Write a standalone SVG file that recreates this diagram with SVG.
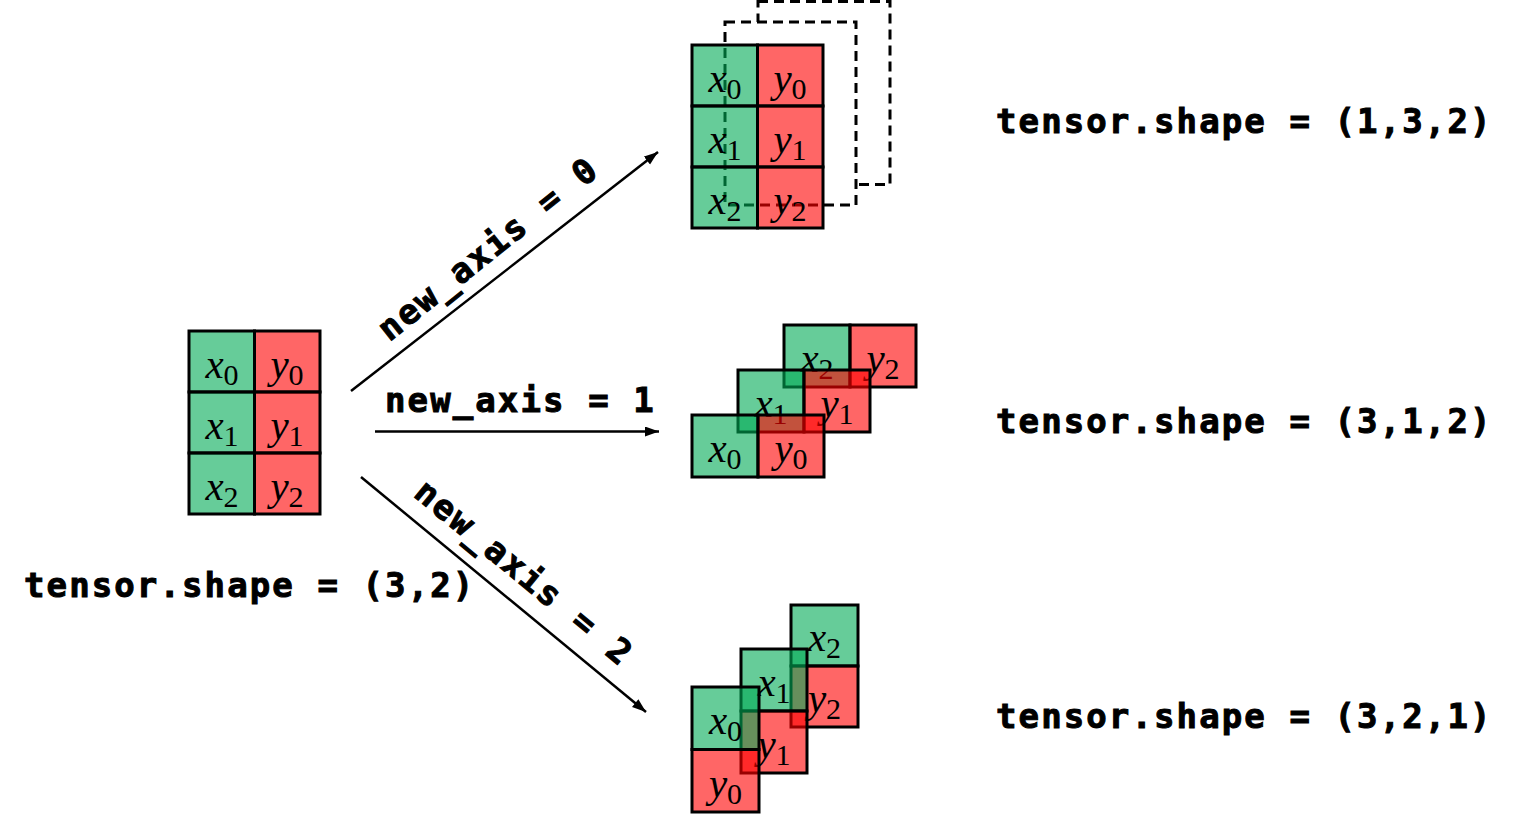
<svg xmlns="http://www.w3.org/2000/svg" width="1534" height="831" viewBox="0 0 1534 831">
<style>
.g{fill:rgb(0,170,85);fill-opacity:0.6;stroke:#000;stroke-width:3}
.r{fill:rgb(255,0,0);fill-opacity:0.6;stroke:#000;stroke-width:3}
.d{fill:#fff;stroke:#000;stroke-width:3;stroke-dasharray:10 6}
.v{font-family:"Liberation Serif","Times New Roman",serif;font-style:italic;font-size:41px;fill:#000;text-anchor:middle}
.s{font-style:normal;font-size:30px}
.lb{font-family:"DejaVu Sans Mono","Liberation Mono",monospace;font-weight:bold;font-size:34px;letter-spacing:2.1px;fill:#000;stroke:#000;stroke-width:1}
.ar{stroke:#000;stroke-width:2.5;fill:none;marker-end:url(#ah)}
</style>
<defs>
<marker id="ah" markerUnits="userSpaceOnUse" markerWidth="16" markerHeight="12" refX="14" refY="5" orient="auto">
<path d="M0,0 L14,5 L0,10 z" fill="#000"/>
</marker>
</defs>
<rect width="1534" height="831" fill="#fff"/>

<!-- source tensor -->
<g id="source">
<rect class="g" x="189" y="331" width="65.5" height="61"/>
<rect class="r" x="254.5" y="331" width="65.5" height="61"/>
<rect class="g" x="189" y="392" width="65.5" height="61"/>
<rect class="r" x="254.5" y="392" width="65.5" height="61"/>
<rect class="g" x="189" y="453" width="65.5" height="61"/>
<rect class="r" x="254.5" y="453" width="65.5" height="61"/>
<text class="v" x="222" y="378">x<tspan class="s" dy="7">0</tspan></text>
<text class="v" x="287" y="378">y<tspan class="s" dy="7">0</tspan></text>
<text class="v" x="222" y="439">x<tspan class="s" dy="7">1</tspan></text>
<text class="v" x="287" y="439">y<tspan class="s" dy="7">1</tspan></text>
<text class="v" x="222" y="500">x<tspan class="s" dy="7">2</tspan></text>
<text class="v" x="287" y="500">y<tspan class="s" dy="7">2</tspan></text>
</g>
<text id="label-src" class="lb" x="24" y="597">tensor.shape = (3,2)</text>

<!-- connectors -->
<g id="connectors">
<line class="ar" x1="351" y1="391" x2="658" y2="152"/>
<line class="ar" x1="375" y1="431.5" x2="659" y2="431.5"/>
<line class="ar" x1="361" y1="477" x2="646" y2="712"/>
<text class="lb" text-anchor="middle" transform="translate(489,250) rotate(-38.5)" x="0" y="10">new_axis = 0</text>
<text class="lb" x="385" y="412">new_axis = 1</text>
<text class="lb" text-anchor="middle" transform="translate(523,574) rotate(39.5)" x="0" y="10">new_axis = 2</text>
</g>

<!-- new_axis = 0 -->
<g id="axis0">
<rect class="d" x="758" y="1.5" width="132" height="183"/>
<rect class="d" x="725" y="22" width="131" height="183"/>
<rect class="g" x="692" y="45" width="65.5" height="61"/>
<rect class="r" x="757.5" y="45" width="65.5" height="61"/>
<rect class="g" x="692" y="106" width="65.5" height="61"/>
<rect class="r" x="757.5" y="106" width="65.5" height="61"/>
<rect class="g" x="692" y="167" width="65.5" height="61"/>
<rect class="r" x="757.5" y="167" width="65.5" height="61"/>
<text class="v" x="725" y="92">x<tspan class="s" dy="7">0</tspan></text>
<text class="v" x="790" y="92">y<tspan class="s" dy="7">0</tspan></text>
<text class="v" x="725" y="153">x<tspan class="s" dy="7">1</tspan></text>
<text class="v" x="790" y="153">y<tspan class="s" dy="7">1</tspan></text>
<text class="v" x="725" y="214">x<tspan class="s" dy="7">2</tspan></text>
<text class="v" x="790" y="214">y<tspan class="s" dy="7">2</tspan></text>
</g>
<text id="label-0" class="lb" x="996" y="133">tensor.shape = (1,3,2)</text>

<!-- new_axis = 1 -->
<g id="axis1">
<g id="axis1-row2">
<rect class="g" x="784" y="325" width="66" height="62"/>
<rect class="r" x="850" y="325" width="66" height="62"/>
<text class="v" x="817" y="372">x<tspan class="s" dy="7">2</tspan></text>
<text class="v" x="883" y="372">y<tspan class="s" dy="7">2</tspan></text>
</g>
<g id="axis1-row1">
<rect class="g" x="738" y="370" width="66" height="62"/>
<rect class="r" x="804" y="370" width="66" height="62"/>
<text class="v" x="771" y="417">x<tspan class="s" dy="7">1</tspan></text>
<text class="v" x="837" y="417">y<tspan class="s" dy="7">1</tspan></text>
</g>
<g id="axis1-row0">
<rect class="g" x="692" y="415" width="66" height="62"/>
<rect class="r" x="758" y="415" width="66" height="62"/>
<text class="v" x="725" y="462">x<tspan class="s" dy="7">0</tspan></text>
<text class="v" x="791" y="462">y<tspan class="s" dy="7">0</tspan></text>
</g>
</g>
<text id="label-1" class="lb" x="996" y="433">tensor.shape = (3,1,2)</text>

<!-- new_axis = 2 -->
<g id="axis2">
<g id="axis2-row2">
<rect class="g" x="791" y="605" width="67" height="61"/>
<rect class="r" x="791" y="666" width="67" height="61"/>
<text class="v" x="824.5" y="651">x<tspan class="s" dy="7">2</tspan></text>
<text class="v" x="824.5" y="712">y<tspan class="s" dy="7">2</tspan></text>
</g>
<g id="axis2-row1">
<rect class="g" x="741" y="649" width="66" height="62"/>
<rect class="r" x="741" y="711" width="66" height="62"/>
<text class="v" x="774" y="696">x<tspan class="s" dy="7">1</tspan></text>
<text class="v" x="774" y="758">y<tspan class="s" dy="7">1</tspan></text>
</g>
<g id="axis2-row0">
<rect class="g" x="692" y="687" width="67" height="62.5"/>
<rect class="r" x="692" y="749.5" width="67" height="62.5"/>
<text class="v" x="725.5" y="734">x<tspan class="s" dy="7">0</tspan></text>
<text class="v" x="725.5" y="797">y<tspan class="s" dy="7">0</tspan></text>
</g>
</g>
<text id="label-2" class="lb" x="996" y="728">tensor.shape = (3,2,1)</text>
</svg>
